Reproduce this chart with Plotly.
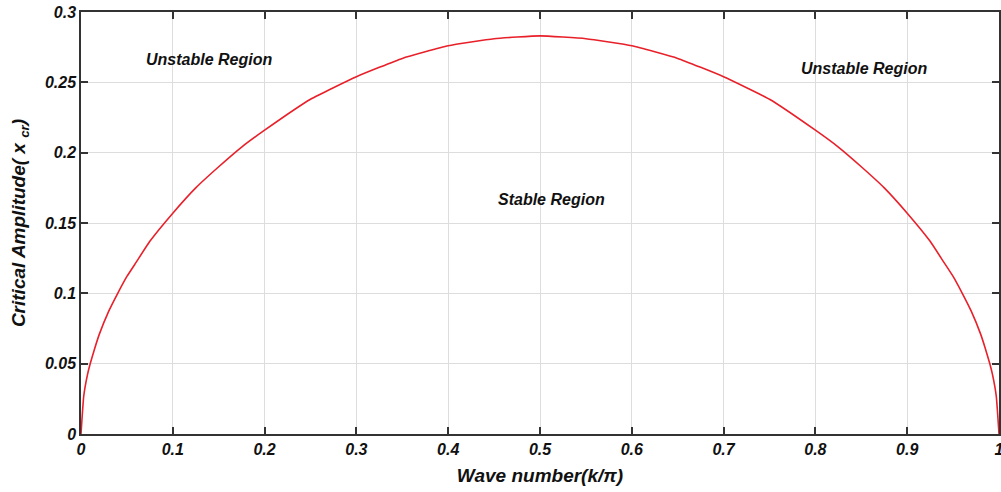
import plotly.graph_objects as go

k_vals = [0, 0.003, 0.007, 0.01, 0.015, 0.02, 0.03, 0.04, 0.05, 0.06, 0.075, 0.1, 0.125, 0.15, 0.175,
          0.2, 0.25, 0.3, 0.35, 0.4, 0.45, 0.5, 0.55, 0.6, 0.65, 0.7, 0.75, 0.8, 0.825, 0.85, 0.875,
          0.9, 0.925, 0.94, 0.95, 0.96, 0.97, 0.98, 0.985, 0.99, 0.993, 0.997, 1.0]
x_cr = [0, 0.027, 0.042, 0.050, 0.061, 0.071, 0.087, 0.100, 0.112, 0.122, 0.137, 0.157, 0.175, 0.190, 0.204,
        0.216, 0.238, 0.254, 0.267, 0.276, 0.281, 0.283, 0.281, 0.276, 0.267, 0.254, 0.238, 0.216, 0.204, 0.190, 0.175,
        0.157, 0.137, 0.122, 0.112, 0.100, 0.087, 0.071, 0.061, 0.050, 0.042, 0.027, 0]

x_ticks = [0, 0.1, 0.2, 0.3, 0.4, 0.5, 0.6, 0.7, 0.8, 0.9, 1]
y_ticks = [0, 0.05, 0.1, 0.15, 0.2, 0.25, 0.3]

labels = ["Unstable Region", "Unstable Region", "Stable Region"]
label_x = [0.139, 0.853, 0.512]
label_y = [0.266, 0.260, 0.167]

FAM = "Liberation Sans, Arial, sans-serif"
tick_font = dict(family=FAM, size=16, color="#111111", weight="bold", style="italic")
ann_font = dict(family=FAM, size=16, color="#111111", weight="bold", style="italic")
title_font = dict(family=FAM, size=19, color="#111111", weight="bold", style="italic")

fig = go.Figure()
fig.add_trace(go.Scatter(x=k_vals, y=x_cr, mode="lines",
                         line=dict(color="#e8202a", width=1.6, shape="spline", smoothing=0.4),
                         showlegend=False, hoverinfo="skip"))

for t, xx, yy in zip(labels, label_x, label_y):
    fig.add_annotation(x=xx, y=yy, text=t, showarrow=False, font=ann_font,
                       xanchor="center", yanchor="middle")

axis_common = dict(showline=True, linecolor="#333333", linewidth=1.5, mirror="ticks",
                   ticks="inside", ticklen=7, tickwidth=1.5, tickcolor="#333333",
                   showgrid=True, gridcolor="#dddddd", gridwidth=1, zeroline=False,
                   tickfont=tick_font, automargin=False, ticklabeloverflow="allow")

fig.update_xaxes(range=[0, 1], tickvals=x_ticks, ticktext=[f"{v:g}" for v in x_ticks],
                 title=dict(text="Wave number(k/π)", font=title_font, standoff=12),
                 **axis_common)
fig.update_yaxes(range=[0, 0.3], tickvals=y_ticks, ticktext=[f"{v:g}" for v in y_ticks],
                 title=dict(text="Critical Amplitude( x <sub>cr</sub>)", font=title_font, standoff=14),
                 **axis_common)

fig.update_layout(width=1001, height=492, margin=dict(l=81, r=2, t=12, b=58),
                  plot_bgcolor="white", paper_bgcolor="white")

fig.write_html("out.html")
